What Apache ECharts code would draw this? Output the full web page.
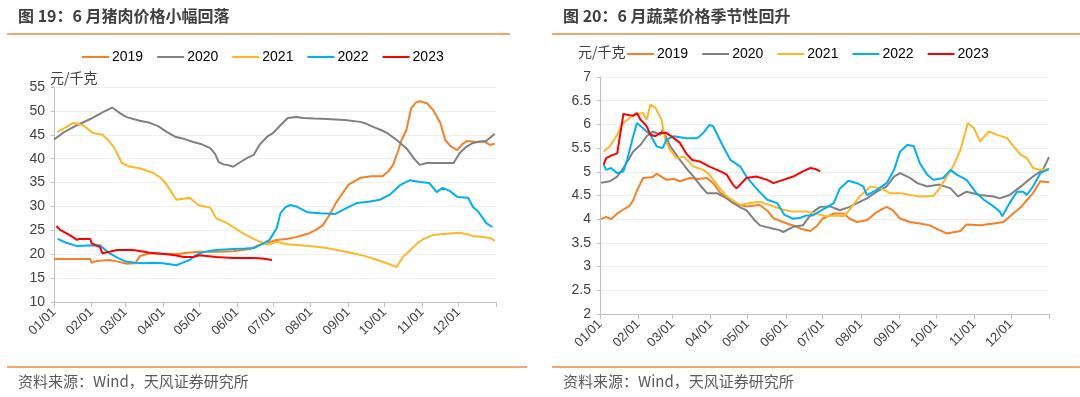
<!DOCTYPE html>
<html>
<head>
<meta charset="utf-8">
<script src="https://cdn.jsdelivr.net/npm/echarts@6/dist/echarts.min.js"></script>
<style>
  html, body { margin: 0; padding: 0; background: #fff; }
  #chart { width: 1080px; height: 397px; }
</style>
</head>
<body>
<div id="chart"></div>
<script>
// 月份起点（一年中的第几天）
var monthStarts = [0, 31, 59, 90, 120, 151, 181, 212, 243, 273, 304, 334];
var monthLabels = ['01/01', '02/01', '03/01', '04/01', '05/01', '06/01', '07/01', '08/01', '09/01', '10/01', '11/01', '12/01'];
var years = ['2019', '2020', '2021', '2022', '2023'];
var colors = ['#F58025', '#808080', '#FDB827', '#00B0F0', '#FF0000'];

// 猪肉价格 [天, 元/千克]
var pork2019 = [[0,19.0],[15,19.0],[30,19.0],[31,18.2],[35,18.6],[46,18.8],[52,18.5],[60,18.0],[67,18.1],[71,19.6],[79,20.2],[90,20.1],[101,20.0],[110,20.3],[120,20.5],[135,20.5],[148,20.6],[162,21.1],[170,22.0],[176,22.4],[184,23.0],[192,23.2],[200,23.6],[211,24.4],[217,25.2],[222,26.1],[226,27.6],[233,30.8],[243,34.5],[253,36.0],[262,36.3],[271,36.3],[276,37.3],[280,38.7],[284,41.5],[287,43.9],[291,46.0],[295,50.6],[299,51.8],[302,52.0],[308,51.6],[313,50.2],[319,47.5],[323,43.9],[328,42.5],[333,41.8],[337,43.0],[341,43.7],[349,43.5],[355,43.6],[360,42.9],[364,43.1]];
var pork2020 = [[0,44.0],[8,45.5],[19,47.0],[30,48.3],[40,49.7],[48,50.7],[54,49.6],[60,48.7],[70,48.0],[79,47.5],[86,46.8],[93,45.6],[100,44.6],[108,44.1],[115,43.5],[122,43.0],[129,42.2],[133,41.0],[136,39.3],[140,38.8],[143,38.7],[148,38.3],[154,39.3],[160,40.2],[165,40.8],[170,43.0],[176,44.6],[181,45.4],[187,47.0],[193,48.5],[200,48.7],[206,48.5],[215,48.4],[225,48.3],[240,48.1],[253,47.7],[258,47.3],[264,46.6],[270,46.0],[275,45.4],[283,43.9],[291,42.2],[297,40.1],[302,38.7],[308,39.1],[320,39.1],[330,39.1],[335,41.2],[340,42.4],[346,43.3],[352,43.6],[357,43.7],[364,45.2]];
var pork2021 = [[3,45.6],[10,46.6],[16,47.5],[24,47.0],[32,45.4],[40,45.0],[45,43.8],[50,42.2],[56,39.1],[63,38.3],[71,38.0],[82,37.0],[88,36.0],[92,34.9],[97,33.0],[101,31.4],[112,31.8],[119,30.3],[126,29.9],[129,29.8],[134,27.5],[143,26.5],[154,24.7],[162,23.6],[170,22.6],[177,22.0],[184,22.6],[192,22.1],[203,21.9],[215,21.6],[225,21.3],[236,20.8],[247,20.2],[257,19.6],[267,18.8],[276,18.0],[283,17.3],[288,19.4],[294,20.8],[300,22.3],[306,23.3],[313,24.0],[324,24.3],[335,24.5],[341,24.2],[346,23.8],[354,23.6],[360,23.4],[364,22.8]];
var pork2022 = [[3,23.2],[10,22.4],[19,21.7],[28,21.8],[38,21.9],[42,21.0],[46,20.2],[53,19.2],[60,18.4],[67,18.2],[74,18.1],[82,18.2],[90,18.1],[101,17.7],[106,18.2],[112,18.8],[116,19.6],[120,20.2],[127,20.6],[134,20.9],[148,21.1],[158,21.2],[165,21.3],[171,22.0],[178,23.0],[184,25.5],[187,28.6],[191,29.8],[195,30.3],[200,30.0],[209,28.8],[220,28.6],[232,28.4],[241,29.6],[250,30.7],[260,31.0],[269,31.4],[277,32.4],[286,34.5],[294,35.5],[302,35.1],[310,34.9],[316,33.0],[321,33.9],[327,33.2],[333,32.0],[342,31.8],[346,29.9],[350,29.0],[354,27.6],[357,26.5],[362,25.7]];
var pork2023 = [[2,25.9],[5,25.1],[13,24.0],[19,23.0],[21,23.2],[30,23.2],[31,22.3],[38,21.5],[40,20.2],[46,20.5],[52,20.9],[65,20.9],[72,20.6],[79,20.3],[93,20.0],[100,19.8],[107,19.4],[115,19.4],[120,19.8],[134,19.4],[148,19.2],[165,19.2],[172,19.1],[180,18.8]];

// 蔬菜价格 [天, 元/千克]
var veg2019 = [[1,4.0],[5,4.05],[9,4.0],[14,4.12],[20,4.22],[24,4.28],[27,4.40],[30,4.6],[33,4.76],[35,4.87],[43,4.89],[46,4.96],[54,4.83],[60,4.85],[65,4.80],[73,4.87],[80,4.85],[87,4.87],[92,4.76],[98,4.55],[103,4.45],[108,4.34],[114,4.30],[119,4.27],[130,4.30],[136,4.18],[141,4.02],[152,3.91],[160,3.84],[163,3.80],[171,3.75],[176,3.85],[181,4.01],[190,4.12],[198,4.12],[203,4.01],[209,3.94],[217,3.98],[225,4.15],[233,4.26],[238,4.19],[244,4.01],[252,3.94],[260,3.91],[268,3.87],[276,3.77],[282,3.70],[293,3.75],[298,3.89],[309,3.87],[320,3.91],[328,3.94],[336,4.12],[342,4.25],[347,4.40],[352,4.55],[358,4.80],[365,4.78]];
var veg2020 = [[1,4.77],[8,4.80],[14,4.90],[19,5.08],[23,5.25],[27,5.43],[33,5.57],[38,5.75],[43,5.85],[49,5.78],[51,5.89],[57,5.54],[65,5.25],[70,5.08],[76,4.90],[82,4.70],[87,4.55],[95,4.55],[103,4.44],[108,4.35],[114,4.25],[119,4.19],[125,4.0],[130,3.87],[141,3.80],[146,3.77],[149,3.73],[157,3.84],[165,3.87],[168,3.98],[173,4.15],[179,4.26],[187,4.27],[195,4.19],[203,4.26],[209,4.34],[217,4.44],[225,4.58],[233,4.69],[239,4.90],[244,4.97],[252,4.87],[258,4.76],[266,4.69],[276,4.73],[285,4.65],[291,4.48],[298,4.58],[309,4.51],[320,4.48],[325,4.44],[333,4.51],[344,4.73],[352,4.90],[360,5.04],[365,5.31]];
var veg2021 = [[3,5.43],[8,5.54],[14,5.78],[19,6.03],[27,6.20],[35,6.24],[38,6.10],[41,6.42],[45,6.35],[50,6.10],[53,5.68],[57,5.46],[62,5.29],[68,5.32],[76,5.11],[84,5.04],[89,4.94],[95,4.73],[103,4.48],[114,4.30],[122,4.34],[130,4.37],[141,4.27],[149,4.20],[157,4.16],[168,4.16],[173,4.13],[184,4.06],[192,4.08],[198,4.06],[203,4.20],[211,4.48],[220,4.69],[228,4.65],[236,4.55],[244,4.55],[252,4.51],[260,4.48],[271,4.49],[276,4.65],[282,4.90],[287,5.11],[293,5.46],[299,6.03],[304,5.92],[309,5.64],[316,5.85],[323,5.78],[331,5.71],[336,5.54],[342,5.36],[347,5.29],[352,5.08],[358,5.04],[365,5.06]];
var veg2022 = [[3,5.15],[5,5.04],[9,5.08],[14,4.97],[19,5.01],[22,5.25],[27,5.75],[30,6.03],[35,5.92],[41,5.78],[46,5.54],[51,5.50],[54,5.68],[60,5.75],[70,5.71],[79,5.71],[84,5.82],[89,5.99],[92,5.96],[100,5.54],[106,5.25],[114,5.11],[119,4.90],[127,4.65],[136,4.41],[144,4.34],[150,4.09],[157,4.01],[163,4.03],[168,4.08],[173,4.08],[181,4.20],[190,4.34],[195,4.65],[202,4.81],[209,4.76],[214,4.69],[217,4.51],[225,4.62],[233,4.76],[239,5.04],[244,5.43],[250,5.57],[255,5.54],[260,5.18],[266,4.94],[271,4.83],[279,4.87],[285,5.04],[290,4.94],[298,4.83],[306,4.55],[312,4.41],[320,4.27],[325,4.16],[327,4.06],[333,4.34],[339,4.58],[344,4.58],[347,4.51],[352,4.69],[358,4.97],[365,5.06]];
var veg2023 = [[3,5.15],[5,5.29],[9,5.34],[14,5.39],[19,6.22],[27,6.18],[30,6.24],[33,6.10],[38,5.96],[41,5.78],[45,5.75],[49,5.82],[54,5.82],[60,5.71],[65,5.61],[70,5.39],[75,5.25],[81,5.22],[89,5.11],[98,5.01],[103,4.94],[108,4.73],[111,4.65],[119,4.87],[127,4.90],[136,4.83],[141,4.76],[149,4.83],[157,4.90],[165,5.01],[171,5.08],[175,5.06],[179,5.01]];

var porkData = [pork2019, pork2020, pork2021, pork2022, pork2023];
var vegData = [veg2019, veg2020, veg2021, veg2022, veg2023];

var txt = '#404040';
var axisGray = '#bfbfbf';
var orangeLine = '#F08A3C';

function xAxisFor(gridIndex) {
    return {
        type: 'value',
        gridIndex: gridIndex,
        min: 0,
        max: 365,
        axisLine: { show: true, lineStyle: { color: axisGray } },
        axisTick: { show: true, length: 5, lineStyle: { color: axisGray }, customValues: monthStarts.concat([365]) },
        axisLabel: {
            customValues: monthStarts,
            rotate: 45,
            margin: 8,
            color: txt,
            fontSize: 13,
            fontFamily: 'Liberation Sans, Arial, sans-serif',
            formatter: function (v) {
                var i = monthStarts.indexOf(v);
                return i >= 0 ? monthLabels[i] : '';
            }
        },
        splitLine: { show: false }
    };
}

function yAxisFor(gridIndex, min, max, interval) {
    return {
        type: 'value',
        gridIndex: gridIndex,
        min: min,
        max: max,
        interval: interval,
        axisLine: { show: true, lineStyle: { color: axisGray } },
        axisTick: { show: true, length: 3, lineStyle: { color: axisGray } },
        axisLabel: { color: txt, fontSize: 14, margin: 9, fontFamily: 'Liberation Sans, Arial, sans-serif' },
        splitLine: { show: true, lineStyle: { color: '#efefef', width: 1 } }
    };
}

var series = [];
years.forEach(function (y, i) {
    series.push({
        name: y, type: 'line', xAxisIndex: 0, yAxisIndex: 0,
        data: porkData[i], showSymbol: false, smooth: false,
        lineStyle: { width: 2, color: colors[i] }, itemStyle: { color: colors[i] }
    });
    series.push({
        name: y, type: 'line', xAxisIndex: 1, yAxisIndex: 1,
        data: vegData[i], showSymbol: false, smooth: false,
        lineStyle: { width: 2, color: colors[i] }, itemStyle: { color: colors[i] }
    });
});

var legendBase = {
    data: years,
    icon: 'rect',
    padding: 0,
    itemWidth: 27,
    itemHeight: 2,
    itemGap: 14,
    textStyle: { color: '#000', fontSize: 14, fontFamily: 'Liberation Sans, Arial, sans-serif', padding: [0, 0, 0, -2] }
};

var titleStyle = { color: '#3f3f3f', fontSize: 16, fontWeight: 'bold', fontFamily: 'Noto Sans CJK SC, sans-serif' };
var srcStyle = { fill: '#595959', fontSize: 15, fontFamily: 'Noto Sans CJK SC, sans-serif' };

var option = {
    animation: false,
    backgroundColor: '#fff',
    title: [
        { text: '图 19：6 月猪肉价格小幅回落', left: 18, top: 8, padding: 0, textStyle: titleStyle },
        { text: '图 20：6 月蔬菜价格季节性回升', left: 563, top: 8, padding: 0, textStyle: titleStyle }
    ],
    legend: [
        Object.assign({}, legendBase, { left: 82, top: 50 }),
        Object.assign({}, legendBase, { left: 627, top: 47 })
    ],
    grid: [
        { left: 54, top: 87, width: 442, height: 215 },
        { left: 600, top: 77, width: 449, height: 237 }
    ],
    xAxis: [xAxisFor(0), xAxisFor(1)],
    yAxis: [yAxisFor(0, 10, 55, 5), yAxisFor(1, 2, 7, 0.5)],
    graphic: [
        { type: 'line', shape: { x1: 7, y1: 34, x2: 510, y2: 34 }, style: { stroke: orangeLine, lineWidth: 1.5 } },
        { type: 'line', shape: { x1: 552, y1: 34, x2: 1080, y2: 34 }, style: { stroke: orangeLine, lineWidth: 1.5 } },
        { type: 'line', shape: { x1: 7, y1: 367, x2: 527, y2: 367 }, style: { stroke: orangeLine, lineWidth: 1.5 } },
        { type: 'line', shape: { x1: 552, y1: 367, x2: 1080, y2: 367 }, style: { stroke: orangeLine, lineWidth: 1.5 } },
        { type: 'text', left: 50, top: 71, style: { text: '元/千克', fill: txt, fontSize: 14, fontFamily: 'Noto Sans CJK SC, sans-serif' } },
        { type: 'text', left: 578, top: 45, style: { text: '元/千克', fill: txt, fontSize: 14, fontFamily: 'Noto Sans CJK SC, sans-serif' } },
        { type: 'text', left: 18, top: 374, style: Object.assign({ text: '资料来源：Wind，天风证券研究所' }, srcStyle) },
        { type: 'text', left: 563, top: 374, style: Object.assign({ text: '资料来源：Wind，天风证券研究所' }, srcStyle) }
    ],
    series: series
};

var myChart = echarts.init(document.getElementById('chart'));
myChart.setOption(option);
</script>
</body>
</html>
